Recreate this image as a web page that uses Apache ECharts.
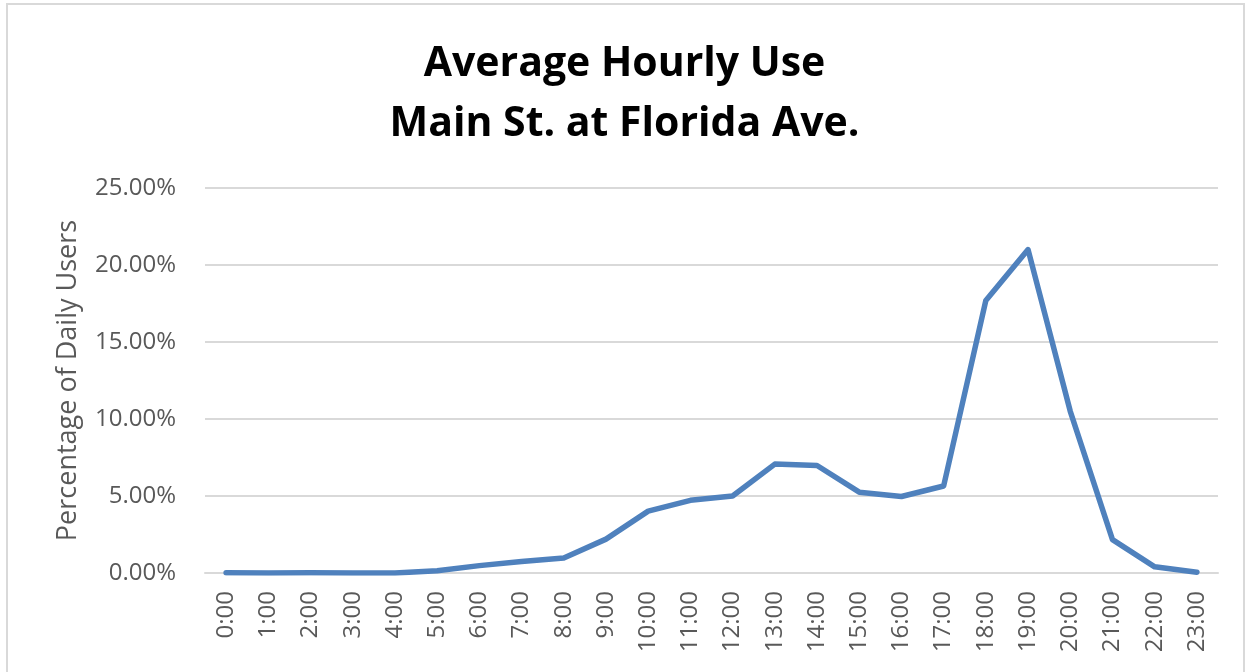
<!DOCTYPE html>
<html>
<head>
<meta charset="utf-8">
<script src="https://cdn.jsdelivr.net/npm/echarts@6/dist/echarts.min.js"></script>
<style>
html,body{margin:0;padding:0;background:#fff;}
#c{width:1249px;height:672px;}
</style>
</head>
<body>
<div id="c"></div>
<script>
const titleLines = ['Average Hourly Use', 'Main St. at Florida Ave.'];
const yAxisName = 'Percentage of Daily Users';
const hours = ['0:00','1:00','2:00','3:00','4:00','5:00','6:00','7:00','8:00','9:00','10:00','11:00','12:00','13:00','14:00','15:00','16:00','17:00','18:00','19:00','20:00','21:00','22:00','23:00'];
const usePct = [0.02, 0.0, 0.02, 0.0, 0.0, 0.15, 0.48, 0.75, 0.97, 2.2, 4.02, 4.72, 5.0, 7.07, 6.98, 5.25, 4.97, 5.65, 17.7, 21.0, 10.5, 2.17, 0.4, 0.05];
const yMin = 0, yMax = 25, yStep = 5;

const chart = echarts.init(document.getElementById('c'), null, {renderer:'canvas'});
const FONT = '"Open Sans", "Liberation Sans", sans-serif';
chart.setOption({
  animation: false,
  backgroundColor: '#fff',
  graphic: [{
    type: 'rect',
    shape: {x: 7, y: 4, width: 1237, height: 700},
    style: {fill: 'none', stroke: '#d9d9d9', lineWidth: 2},
    silent: true
  }],
  title: {
    text: titleLines.join('\n'),
    left: 'center',
    top: 29,
    textStyle: {fontFamily: FONT, fontSize: 41, fontWeight: 'bold', color: '#000', lineHeight: 60}
  },
  grid: {left: 205, right: 31, top: 188, bottom: 99, containLabel: false},
  xAxis: {
    type: 'category',
    data: hours,
    boundaryGap: true,
    axisLine: {show: true, lineStyle: {color: '#d9d9d9', width: 2}},
    axisTick: {show: false},
    axisLabel: {rotate: 90, margin: 18, color: '#595959', fontSize: 24, fontFamily: FONT, interval: 0}
  },
  yAxis: {
    type: 'value',
    min: yMin, max: yMax, interval: yStep,
    name: yAxisName,
    nameLocation: 'middle',
    nameGap: 123,
    nameRotate: 90,
    nameTextStyle: {color: '#595959', fontSize: 27, fontFamily: FONT},
    axisLine: {show: false},
    axisTick: {show: false},
    splitLine: {lineStyle: {color: '#d9d9d9', width: 2}},
    axisLabel: {margin: 29, color: '#595959', fontSize: 24, fontFamily: FONT,
      formatter: v => v.toFixed(2) + '%'}
  },
  series: [{
    type: 'line',
    data: usePct,
    symbol: 'none',
    lineStyle: {color: '#4f81bd', width: 5.5, cap: 'round', join: 'round'},
    itemStyle: {color: '#4f81bd'}
  }]
});
</script>
</body>
</html>
